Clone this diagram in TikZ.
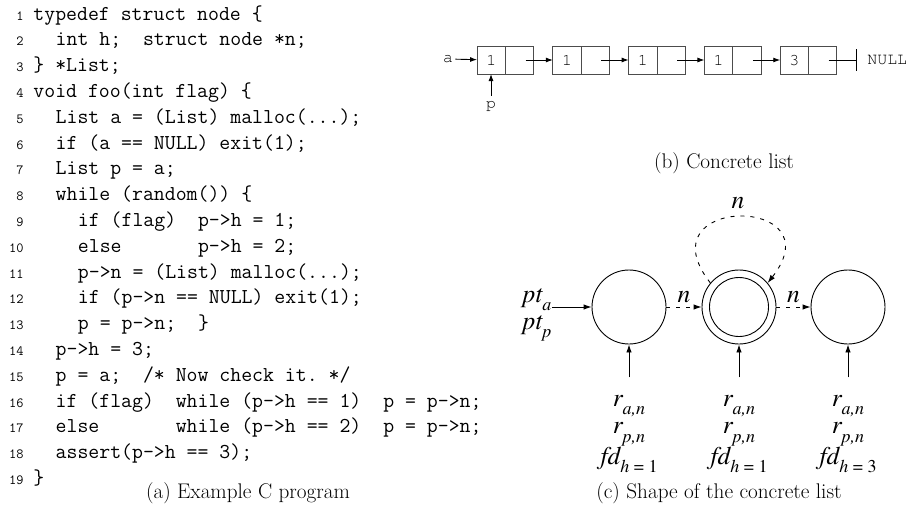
\documentclass[tikz,border=0pt]{standalone}
\usepackage[T1]{fontenc}
\usepackage{fontspec}
\newcommand*{\courfont}{\fontencoding{T1}\fontfamily{pcr}\selectfont}
\newcommand*{\tmsfont}{\fontencoding{T1}\fontfamily{ptm}\selectfont}
\newcommand*{\lsub}[1]{\raisebox{-0.33em}{\fontsize{18}{18}\selectfont #1}}
\usetikzlibrary{arrows.meta,positioning,calc}

% one numbered line of the C listing: number, indent (columns), text
\newcommand*{\codeline}[3]{%
  \node[lnum] (num#1) at (24,{-20-(#1-1)*25.8}) {#1};
  \node[code] (code#1) at ({33+#2*11.13},{-20-(#1-1)*25.8}) {#3};
}

\begin{document}
\begin{tikzpicture}[x=1pt,y=1pt,line width=0.9pt]
\tikzset{
  lnum/.style={anchor=base east,inner sep=0pt,font=\fontsize{14}{14}\selectfont\ttfamily},
  code/.style={anchor=base west,inner sep=0pt,font=\fontsize{21.2}{25.8}\selectfont\ttfamily\frenchspacing},
  caption/.style={inner sep=0pt,font=\fontsize{21.2}{25}\selectfont},
  cell/.style={draw=black!70,minimum width=28.3pt,minimum height=28pt,inner sep=0pt,outer sep=0pt,
    font=\courfont\fontsize{16.5}{16.5}\selectfont},
  lbltt/.style={inner sep=2pt,font=\courfont\fontsize{16.5}{16.5}\selectfont},
  lptr/.style={-{Latex[length=7pt,width=5pt]}},
  state/.style={circle,draw,minimum size=74pt,inner sep=0pt},
  lbl/.style={inner sep=0pt,align=center,font=\tmsfont\itshape\fontsize{25.5}{27.5}\selectfont},
  cptr/.style={-{Latex[length=8pt,width=5.5pt]}},
  dptr/.style={cptr,dash pattern=on 4pt off 6pt}
}
\useasboundingbox (0,0) rectangle (907,-506);

% (a) the program
\codeline{1}{0}{typedef struct node \{}
\codeline{2}{2}{int h;\ \ struct node *n;}
\codeline{3}{0}{\} *List;}
\codeline{4}{0}{void foo(int flag) \{}
\codeline{5}{2}{List a = (List) malloc(...);}
\codeline{6}{2}{if (a == NULL) exit(1);}
\codeline{7}{2}{List p = a;}
\codeline{8}{2}{while (random()) \{}
\codeline{9}{4}{if (flag)\ \ p->h = 1;}
\codeline{10}{4}{else\ \ \ \ \ \ \ p->h = 2;}
\codeline{11}{4}{p->n = (List) malloc(...);}
\codeline{12}{4}{if (p->n == NULL) exit(1);}
\codeline{13}{4}{p = p->n;\ \ \}}
\codeline{14}{2}{p->h = 3;}
\codeline{15}{2}{p = a;\ \ /* Now check it. */}
\codeline{16}{2}{if (flag)\ \ while (p->h == 1)\ \ p = p->n;}
\codeline{17}{2}{else\ \ \ \ \ \ \ while (p->h == 2)\ \ p = p->n;}
\codeline{18}{2}{assert(p->h == 3);}
\codeline{19}{0}{\}}
\node[caption] (capa) at (248,-493) {(a) Example C program};

% (b) the concrete list
\foreach \i/\v in {1/1,2/1,3/1,4/1,5/3}{
  \node[cell] (val\i) at ({491.2+(\i-1)*75.8},-60) {\v};
  \node[cell,right=0pt of val\i] (nxt\i) {};
}
\foreach \i/\j in {1/2,2/3,3/4,4/5}
  \draw[lptr] ([xshift=6pt]nxt\i.center) -- (val\j.west);
\node[lbltt,anchor=west,inner sep=0pt] (null) at (867,-60) {NULL};
\draw[-{Bar[width=22pt]}] ([xshift=6pt]nxt5.center) -- ([xshift=-10pt]null.west);
\node[lbltt] (a) at (448,-59) {a};
\draw[lptr] (a) -- (val1);
\node[lbltt,inner sep=5pt] (p) at (491,-106) {p};
\draw[lptr] (p.north) -- (p.north |- val1.south);
\node[caption] (capb) at (724,-163) {(b) Concrete list};

% (c) the shape
\node[state] (s1) at (629,-307) {};
\node[state] (s2) at (739,-307) {};
\node[state,minimum size=59pt] (s2in) at (s2) {};
\node[state] (s3) at (848,-307) {};
\node[lbl] (pt) at (537,-315) {pt\lsub{a}\\pt\lsub{p}};
\draw[cptr] (pt.east |- s1.west) -- (s1.west);
\draw[dptr] (s1) -- node[lbl,above=4pt] {n} (s2);
\draw[dptr] (s2) -- node[lbl,above=4pt] {n} (s3);
\draw[dptr] (s2.140) .. controls +(128:112) and +(52:112) .. (s2.40);
\node[lbl] (loopn) at (738,-203) {n};
\foreach \s in {1,2,3}
  \coordinate (in\s) at ($(s\s.south)+(0,-33)$);
\node[lbl] (lab1) at (629,-434) {r\lsub{a,n}\\r\lsub{p,n}\\fd\lsub{h {\upshape = 1}}};
\node[lbl] (lab2) at (739,-434) {r\lsub{a,n}\\r\lsub{p,n}\\fd\lsub{h {\upshape = 1}}};
\node[lbl] (lab3) at (848,-434) {r\lsub{a,n}\\r\lsub{p,n}\\fd\lsub{h {\upshape = 3}}};
\foreach \s in {1,2,3}
  \draw[cptr] (in\s) -- (s\s);
\node[caption] (capc) at (719,-493) {(c) Shape of the concrete list};
\end{tikzpicture}
\end{document}
